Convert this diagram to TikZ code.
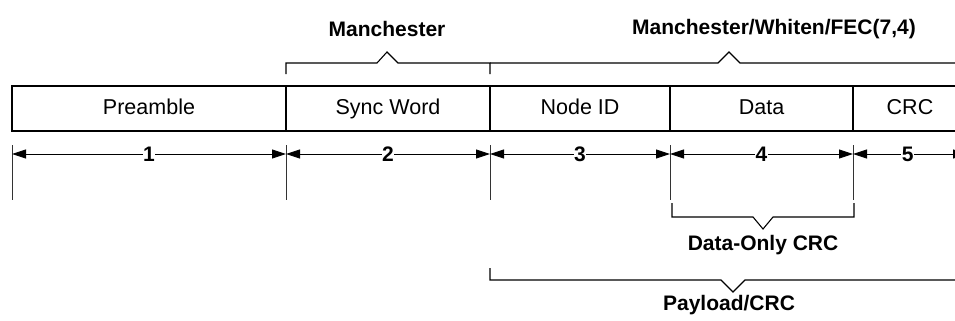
\documentclass[tikz,border=0pt]{standalone}
\usepackage{fontspec}
\setmainfont{Liberation Sans}
\usetikzlibrary{arrows.meta}
\begin{document}
\begin{tikzpicture}[x=1pt,y=-1pt,
  field/.style={draw,line width=1.5pt,minimum height=45pt,inner sep=0pt,text height=15pt,text depth=4pt,font=\fontsize{21.5}{24}\selectfont},
  dim/.style={line width=0.9pt,{Triangle[length=14pt,width=9pt]}-{Triangle[length=14pt,width=9pt]}},
  dimlbl/.style={fill=white,inner sep=0.5pt,font=\fontsize{21}{24}\selectfont\bfseries},
  ext/.style={line width=0.9pt,draw=black!80},
  brk/.style={line width=1.1pt},
  brklbl/.style={inner sep=0pt,font=\fontsize{21}{24}\selectfont\bfseries}]
\useasboundingbox (0,0) rectangle (955,321);
\clip (0,0) rectangle (955,321);
% fields
\node[field,minimum width=274pt] (pre) at (149,108.5) {Preamble};
\node[field,minimum width=204pt] (sync) at (388,108.5) {Sync Word};
\node[field,minimum width=180pt] (nid) at (580,108.5) {Node ID};
\node[field,minimum width=183pt] (data) at (761.5,108.5) {Data};
\node[field,minimum width=114pt] (crc) at (910,108.5) {CRC};
% extension lines
\coordinate (e0t) at (12,145); \coordinate (e0b) at (12,200);
\coordinate (e1t) at (286,145); \coordinate (e1b) at (286,200);
\coordinate (e2t) at (490,145); \coordinate (e2b) at (490,200);
\coordinate (e3t) at (670,145); \coordinate (e3b) at (670,200);
\coordinate (e4t) at (853,145); \coordinate (e4b) at (853,200);
\coordinate (e5) at (967,154);
\foreach \i in {0,...,4} {\draw[ext] (e\i t) -- (e\i b);}
% dimension lines
\coordinate (d0) at (12,154); \coordinate (d1) at (286,154);
\coordinate (d2) at (490,154); \coordinate (d3) at (670,154);
\coordinate (d4) at (853,154);
\draw[dim] (d0) -- node[dimlbl] (n1) {1} (d1);
\draw[dim] (d1) -- node[dimlbl] (n2) {2} (d2);
\draw[dim] (d2) -- node[dimlbl] (n3) {3} (d3);
\draw[dim] (d3) -- node[dimlbl] (n4) {4} (d4);
\draw[dim] (d4) -- node[dimlbl,pos=0.48] (n5) {5} (e5);
% top brackets
\draw[brk] (286,74) -- (286,63) -- (377,63) -- (387,52) -- (398,63) -- (490,63) -- (490,74);
\draw[brk] (490,63) -- (718,63) -- (729,52) -- (740,63) -- (965,63);
\node[brklbl] (man) at (387,29) {Manchester};
\node[brklbl] (mwf) at (774,29) {Manchester/Whiten/FEC(7,4)};
% data-only bracket
\draw[brk] (672,203) -- (672,217) -- (753,217) -- (763,229) -- (773,217) -- (854,217) -- (854,203);
\node[brklbl] (doc) at (763,245) {Data-Only CRC};
% payload bracket
\draw[brk] (490,268) -- (490,280) -- (721,280) -- (733,292) -- (745,280) -- (965,280);
\node[brklbl] (pay) at (729,305) {Payload/CRC};
\end{tikzpicture}
\end{document}
